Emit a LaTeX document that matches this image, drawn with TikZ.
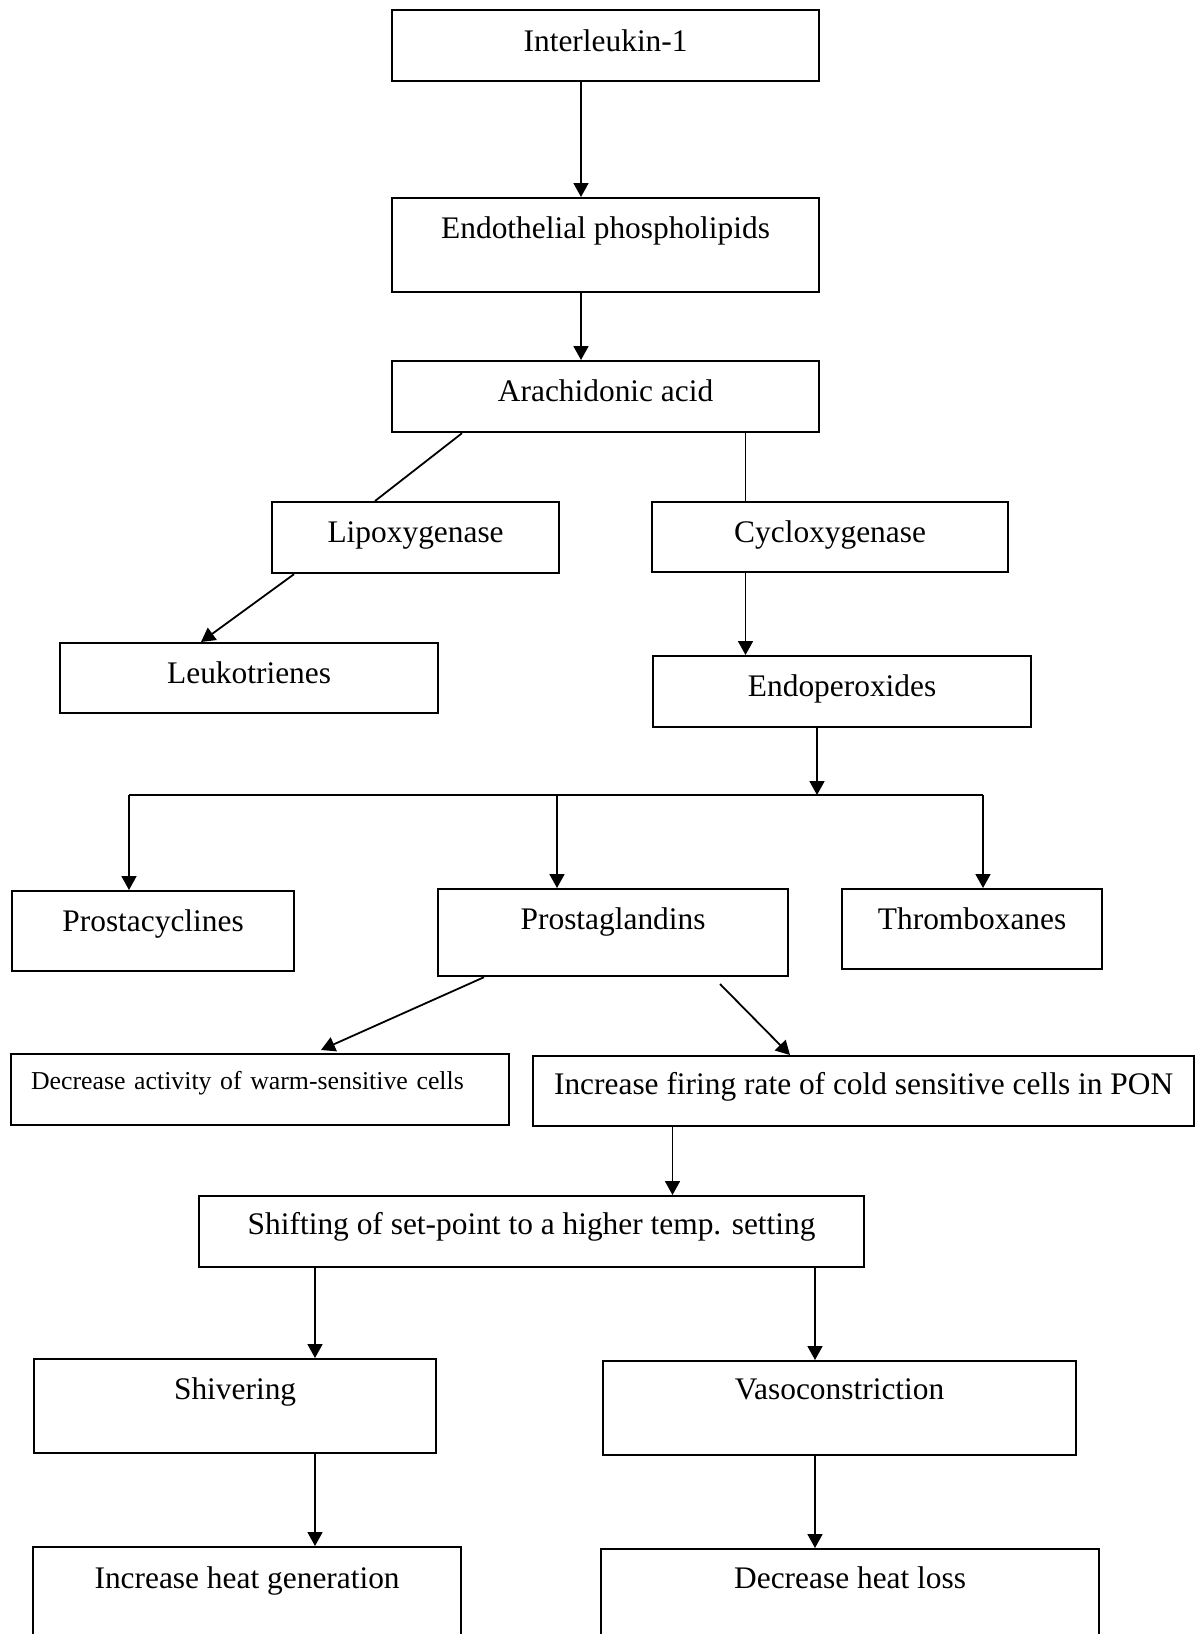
\documentclass[tikz,border=0pt]{standalone}
\usepackage{fontspec}
\setmainfont{Liberation Serif}
\usetikzlibrary{arrows.meta,calc}
\begin{document}
\begin{tikzpicture}[x=0.5pt,y=-0.5pt,
  flowbox/.style n args={3}{draw, line width=1.1pt, inner sep=0pt, anchor=north west,
    minimum width=#1pt, text height=#2pt, text depth=#3pt,
    font=\fontsize{15.7pt}{18pt}\selectfont},
  link/.style={line width=0.9pt},
  arr/.style={link, -{Triangle[length=7pt,width=7.5pt]}}]
\path[use as bounding box, clip] (0,0) rectangle (1201,1634);
\fill[white] (0,0) rectangle (1201,1634);

% boxes
\node[flowbox={213.5}{20.5}{15}] (il) at (391,9) {Interleukin-1};
\node[flowbox={213.5}{20}{27}] (ep) at (391,197) {Endothelial phospholipids};
\node[flowbox={213.5}{20}{15.5}] (aa) at (391,360) {Arachidonic acid};
\node[flowbox={143.5}{20}{15.5}] (lipo) at (271,501) {Lipoxygenase};
\node[flowbox={178}{20}{15}] (cyclo) at (651,501) {Cycloxygenase};
\node[flowbox={189}{20}{15}] (leuko) at (59,642) {Leukotrienes};
\node[flowbox={189}{20}{15.5}] (endo) at (652,655) {Endoperoxides};
\node[flowbox={141}{20}{20}] (pc) at (11,890) {Prostacyclines};
\node[flowbox={175}{20}{23.5}] (pg) at (437,888) {Prostaglandins};
\node[flowbox={130}{20}{20}] (tb) at (841,888) {Thromboxanes};
\node[flowbox={249}{17.5}{18}, text width=229pt, align=left,
      font=\fontsize{12.9pt}{16pt}\selectfont] (da) at (10,1053)
      {Decrease activity of warm-sensitive cells};
\node[flowbox={330.5}{19}{16}] (inc) at (532,1055)
      {Increase firing rate of cold sensitive cells in PON};
\node[flowbox={332.5}{19}{16.5}] (sh) at (198,1195)
      {Shifting of set-point to a higher temp. setting};
\node[flowbox={201}{20}{27}] (shiv) at (33,1358) {Shivering};
\node[flowbox={236.5}{19}{28}] (vaso) at (602,1360) {Vasoconstriction};
\node[flowbox={214}{20.5}{60}] (ihg) at (32,1546) {Increase heat generation};
\node[flowbox={249}{19.5}{60}] (dhl) at (600,1548) {Decrease heat loss};

% column positions
\coordinate (c1) at (581,0);
\coordinate (caL1) at (462,0);
\coordinate (caL2) at (375,0);
\coordinate (ccy) at (745.5,0);
\coordinate (clp1) at (294,0);
\coordinate (clp2) at (201,0);
\coordinate (br) at (817,795);
\coordinate (bl) at (129,795);
\coordinate (bm) at (557,795);
\coordinate (brr) at (983,795);
\coordinate (pgL1) at (484,0);
\coordinate (pgL2) at (321,1050);
\coordinate (pgR1) at (720,984);
\coordinate (pgR2) at (790,0);
\coordinate (cin) at (672.5,0);
\coordinate (cs1) at (315,0);
\coordinate (cs2) at (815,0);

% connectors
\draw[arr] (il.south -| c1) -- (ep.north -| c1);
\draw[arr] (ep.south -| c1) -- (aa.north -| c1);
\draw[link] (aa.south -| caL1) -- (lipo.north -| caL2);
\draw[link] (aa.south -| ccy) -- (cyclo.north -| ccy);
\draw[arr] (lipo.south -| clp1) -- (leuko.north -| clp2);
\draw[arr] (cyclo.south -| ccy) -- (endo.north -| ccy);
\draw[arr] (endo.south -| br) -- (br);
\draw[link] (bl) -- (brr);
\draw[arr] (bl) -- (pc.north -| bl);
\draw[arr] (bm) -- (pg.north -| bm);
\draw[arr] (brr) -- (tb.north -| brr);
\draw[arr] (pg.south -| pgL1) -- (pgL2);
\draw[arr] (pgR1) -- (inc.north -| pgR2);
\draw[arr] (inc.south -| cin) -- (sh.north -| cin);
\draw[arr] (sh.south -| cs1) -- (shiv.north -| cs1);
\draw[arr] (sh.south -| cs2) -- (vaso.north -| cs2);
\draw[arr] (shiv.south -| cs1) -- (ihg.north -| cs1);
\draw[arr] (vaso.south -| cs2) -- (dhl.north -| cs2);
\end{tikzpicture}
\end{document}
